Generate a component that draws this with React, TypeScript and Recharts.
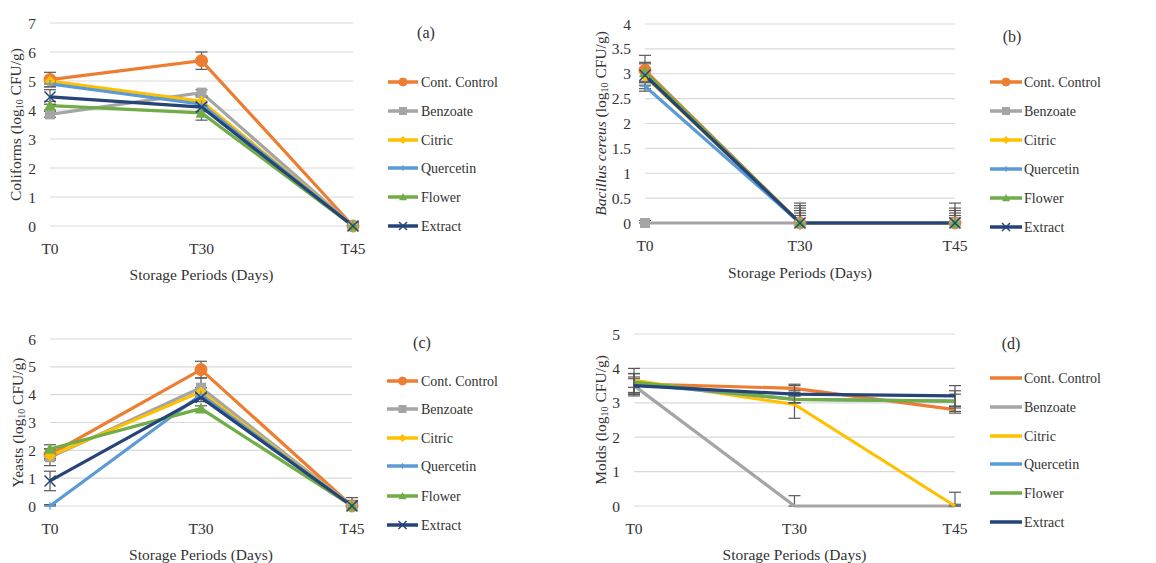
import React from 'react';
import { LineChart, Line, XAxis, YAxis, CartesianGrid, ErrorBar, Label } from 'recharts';

const periods = ['T0', 'T30', 'T45'];
const seriesNames = ['Cont. Control', 'Benzoate', 'Citric', 'Quercetin', 'Flower', 'Extract'];
const seriesColors = ['#ED7D31', '#A5A5A5', '#FFC000', '#5B9BD5', '#70AD47', '#264478'];
const seriesMarkers = ['circle', 'square', 'diamond', 'plus', 'triangle', 'x'];

const coliformsValues = [
  [5.05, 5.7, 0],
  [3.85, 4.6, 0],
  [5.0, 4.3, 0],
  [4.9, 4.2, 0],
  [4.15, 3.9, 0],
  [4.45, 4.1, 0],
];
const coliformsErrors = [
  [0.25, 0.3, 0.1],
  [0.1, 0.1, 0.1],
  [0.1, 0.15, 0.1],
  [0.1, 0.1, 0.1],
  [0.15, 0.25, 0.1],
  [0.25, 0.15, 0.15],
];
const coliformsTicks = [0, 1, 2, 3, 4, 5, 6, 7];

const bacillusValues = [
  [3.07, 0, 0],
  [0, 0, 0],
  [2.95, 0, 0],
  [2.75, 0, 0],
  [3.03, 0, 0],
  [2.97, 0, 0],
];
const bacillusErrors = [
  [0.3, 0.4, 0.4],
  [0.05, 0.3, 0.3],
  [0.25, 0.25, 0.25],
  [0.1, 0.2, 0.2],
  [0.2, 0.35, 0.15],
  [0.15, 0.15, 0.1],
];
const bacillusTicks = [0, 0.5, 1, 1.5, 2, 2.5, 3, 3.5, 4];

const yeastsValues = [
  [1.85, 4.9, 0],
  [1.75, 4.25, 0],
  [1.8, 4.1, 0],
  [0, 4.0, 0],
  [2.05, 3.5, 0],
  [0.9, 3.9, 0],
];
const yeastsErrors = [
  [0.2, 0.3, 0.3],
  [0.3, 0.35, 0.2],
  [0.1, 0.15, 0.1],
  [0.05, 0.1, 0.1],
  [0.15, 0.1, 0.1],
  [0.35, 0.15, 0.15],
];
const yeastsTicks = [0, 1, 2, 3, 4, 5, 6];

const moldsValues = [
  [3.55, 3.42, 2.8],
  [3.5, 0, 0],
  [3.65, 2.95, 0],
  [3.55, 3.1, 3.05],
  [3.6, 3.1, 3.05],
  [3.5, 3.25, 3.2],
];
const moldsErrors = [
  [0.3, 0.12, 0.1],
  [0.2, 0.3, 0.05],
  [0.2, 0.4, 0.4],
  [0.3, 0.1, 0.3],
  [0.4, 0.1, 0.2],
  [0.25, 0.25, 0.3],
];
const moldsTicks = [0, 1, 2, 3, 4, 5];

const FONT = "'Liberation Serif', 'Times New Roman', serif";
const TEXT = '#333333';

// error bars are cut at the axis floor (0), as in the source figure
function buildRows(values: number[][], errors: number[][]) {
  return periods.map((p, i) => {
    const row: any = { period: p };
    values.forEach((v, s) => {
      const e = errors[s][i];
      row['s' + s] = v[i];
      row['e' + s] = [Math.min(e, v[i]), e];
    });
    return row;
  });
}

function Marker({ shape, color, cx, cy, s }: any) {
  if (cx == null || cy == null) return null;
  const h = s / 2;
  switch (shape) {
    case 'circle':
      return <circle cx={cx} cy={cy} r={h} fill={color} stroke={color} />;
    case 'square':
      return <rect x={cx - h} y={cy - h} width={s} height={s} fill={color} />;
    case 'diamond':
      return <polygon points={`${cx},${cy - h} ${cx + h},${cy} ${cx},${cy + h} ${cx - h},${cy}`} fill={color} />;
    case 'plus':
      return (
        <g stroke={color} strokeWidth={1.3}>
          <line x1={cx - h} x2={cx + h} y1={cy} y2={cy} />
          <line x1={cx} x2={cx} y1={cy - h * 0.7} y2={cy + h * 0.7} />
        </g>
      );
    case 'triangle':
      return <polygon points={`${cx},${cy - h} ${cx + h},${cy + h * 0.8} ${cx - h},${cy + h * 0.8}`} fill={color} />;
    case 'x':
      return (
        <g stroke={color} strokeWidth={1.5}>
          <line x1={cx - h} x2={cx + h} y1={cy - h} y2={cy + h} />
          <line x1={cx - h} x2={cx + h} y1={cy + h} y2={cy - h} />
        </g>
      );
    default:
      return null;
  }
}

const markerSizes = [12, 10, 11, 11, 12, 11];

function Log10Label({ prefix, italic }: any) {
  return (
    <>
      <tspan fontStyle={italic ? 'italic' : 'normal'}>{prefix}</tspan>
      <tspan>{italic ? '  (log' : ' (log'}</tspan>
      <tspan fontSize={10} dy={4}>10</tspan>
      <tspan dy={-4}> CFU/g)</tspan>
    </>
  );
}

function Panel(props: any) {
  const {
    left, top, width, height, plotLeft, plotRight, plotTop, plotBottom,
    values, errors, ticks, yPrefix, italic, yLabelX, xTitleY, letter, letterX, letterY,
    legendX1, legendX2, legendTextX, legendYs, markers,
  } = props;
  const rows = buildRows(values, errors);
  const max = ticks[ticks.length - 1];
  return (
    <div style={{ position: 'absolute', left, top, width, height }}>
      <LineChart
        width={width}
        height={height}
        data={rows}
        margin={{ top: plotTop, right: width - plotRight, bottom: 0, left: 0 }}
      >
        <CartesianGrid horizontal vertical={false} stroke="#D9D9D9" strokeWidth={1.2} />
        <XAxis
          dataKey="period"
          height={height - plotBottom}
          axisLine={false}
          tickLine={false}
          tickSize={0}
          tickMargin={17}
          tick={{ fill: TEXT, fontSize: 15.5, fontFamily: FONT }}
          interval={0}
        >
          <Label
            content={({ viewBox }: any) => (
              <text
                x={viewBox.x + viewBox.width / 2}
                y={xTitleY}
                textAnchor="middle"
                fill={TEXT}
                fontSize={15.5}
                fontFamily={FONT}
              >
                Storage Periods (Days)
              </text>
            )}
          />
        </XAxis>
        <YAxis
          width={plotLeft}
          domain={[0, max]}
          ticks={ticks}
          interval={0}
          axisLine={false}
          tickLine={false}
          tickSize={0}
          tickMargin={14}
          tick={{ fill: TEXT, fontSize: 15.5, fontFamily: FONT }}
        >
          <Label
            content={({ viewBox }: any) => {
              const cy = viewBox.y + viewBox.height / 2;
              return (
                <text
                  x={yLabelX}
                  y={cy}
                  transform={`rotate(-90 ${yLabelX} ${cy})`}
                  textAnchor="middle"
                  dominantBaseline="central"
                  fill={TEXT}
                  fontSize={15.5}
                  fontFamily={FONT}
                >
                  <Log10Label prefix={yPrefix} italic={italic} />
                </text>
              );
            }}
          />
        </YAxis>
        {seriesNames.map((name, s) => (
          <Line
            key={name}
            name={name}
            dataKey={'s' + s}
            type="linear"
            stroke={seriesColors[s]}
            strokeWidth={3.2}
            isAnimationActive={false}
            dot={
              markers
                ? (p: any) => (
                    <Marker
                      key={`${s}-${p.index}`}
                      shape={seriesMarkers[s]}
                      color={seriesColors[s]}
                      cx={p.cx}
                      cy={p.cy}
                      s={markerSizes[s]}
                    />
                  )
                : false
            }
            activeDot={false}
          >
            <ErrorBar dataKey={'e' + s} width={6} strokeWidth={1.2} stroke="#595959" direction="y" />
          </Line>
        ))}
      </LineChart>
      <svg
        width={width}
        height={height}
        style={{ position: 'absolute', left: 0, top: 0, pointerEvents: 'none' }}
      >
        <text x={letterX} y={letterY} textAnchor="middle" dominantBaseline="central" fill={TEXT} fontSize={16} fontFamily={FONT}>
          {letter}
        </text>
        {seriesNames.map((name, s) => (
          <g key={name}>
            <line x1={legendX1} x2={legendX2} y1={legendYs[s]} y2={legendYs[s]} stroke={seriesColors[s]} strokeWidth={3.5} />
            {markers ? (
              <Marker shape={seriesMarkers[s]} color={seriesColors[s]} cx={(legendX1 + legendX2) / 2} cy={legendYs[s]} s={8} />
            ) : null}
            <text x={legendTextX} y={legendYs[s]} dominantBaseline="central" fill={TEXT} fontSize={14} fontFamily={FONT}>
              {name}
            </text>
          </g>
        ))}
      </svg>
    </div>
  );
}

export default function App() {
  return (
    <div style={{ position: 'absolute', left: 0, top: 0, width: 1156, height: 563, background: '#fff', overflow: 'hidden' }}>
      <Panel
        left={0} top={0} width={580} height={290}
        plotLeft={50} plotRight={353} plotTop={23} plotBottom={226}
        values={coliformsValues} errors={coliformsErrors} ticks={coliformsTicks}
        yPrefix="Coliforms" italic={false} yLabelX={15} xTitleY={280}
        letter="(a)" letterX={426} letterY={32}
        legendX1={388} legendX2={418} legendTextX={421} legendYs={[82, 111, 140, 168, 197, 226]}
        markers
      />
      <Panel
        left={580} top={0} width={576} height={290}
        plotLeft={65} plotRight={375} plotTop={24} plotBottom={223}
        values={bacillusValues} errors={bacillusErrors} ticks={bacillusTicks}
        yPrefix="Bacillus cereus" italic yLabelX={20} xTitleY={278}
        letter="(b)" letterX={432} letterY={36}
        legendX1={410} legendX2={442} legendTextX={444} legendYs={[82, 111, 140, 169, 198, 227]}
        markers
      />
      <Panel
        left={0} top={290} width={580} height={273}
        plotLeft={50} plotRight={352} plotTop={49} plotBottom={216}
        values={yeastsValues} errors={yeastsErrors} ticks={yeastsTicks}
        yPrefix="Yeasts" italic={false} yLabelX={17} xTitleY={270}
        letter="(c)" letterX={422} letterY={52}
        legendX1={387} legendX2={418} legendTextX={421} legendYs={[91, 119, 148, 176, 206, 235]}
        markers
      />
      <Panel
        left={580} top={290} width={576} height={273}
        plotLeft={54} plotRight={375} plotTop={44} plotBottom={216}
        values={moldsValues} errors={moldsErrors} ticks={moldsTicks}
        yPrefix="Molds" italic={false} yLabelX={20} xTitleY={270}
        letter="(d)" letterX={431} letterY={53}
        legendX1={410} legendX2={442} legendTextX={444} legendYs={[88, 117, 146, 174, 203, 232]}
        markers={false}
      />
    </div>
  );
}
